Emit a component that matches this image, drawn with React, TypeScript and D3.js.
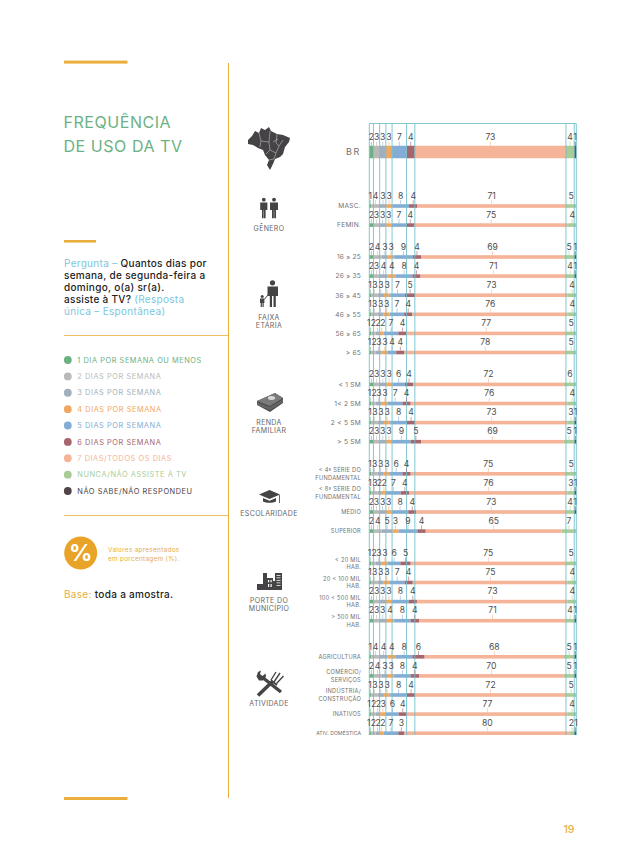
import * as d3 from "d3";

// one row per cut of the sample, in reading order
const rowLabels: string[][] = [
  ["BR"],
  ["MASC."], ["FEMIN."],
  ["16 » 25"], ["26 » 35"], ["36 » 45"], ["46 » 55"], ["56 » 65"], ["> 65"],
  ["< 1 SM"], ["1< 2 SM"], ["2 < 5 SM"], ["> 5 SM"],
  ["< 4ª SÉRIE DO", "FUNDAMENTAL"], ["< 8ª SÉRIE DO", "FUNDAMENTAL"], ["MÉDIO"], ["SUPERIOR"],
  ["< 20 MIL", "HAB."], ["20 < 100 MIL", "HAB."], ["100 < 500 MIL", "HAB."], ["> 500 MIL", "HAB."],
  ["AGRICULTURA"], ["COMÉRCIO/", "SERVIÇOS"], ["INDÚSTRIA/", "CONSTRUÇÃO"], ["INATIVOS"], ["ATIV. DOMÉSTICA"],
];

const dia1 = [2, 1, 2, 2, 2, 1, 1, 1, 1, 2, 1, 1, 2, 1, 1, 2, 2, 1, 1, 2, 2, 1, 2, 1, 1, 1];
const dia2 = [3, 4, 3, 4, 3, 3, 3, 2, 2, 3, 2, 3, 3, 3, 3, 3, 4, 2, 3, 3, 3, 4, 4, 3, 2, 2];
const dia3 = [3, 3, 3, 3, 4, 3, 3, 2, 3, 3, 3, 3, 3, 3, 2, 3, 5, 3, 3, 3, 3, 4, 3, 3, 2, 2];
const dia4 = [3, 3, 3, 3, 4, 3, 3, 2, 3, 3, 3, 3, 3, 3, 2, 3, 3, 3, 3, 3, 4, 4, 3, 3, 3, 2];
const dia5 = [7, 8, 7, 9, 8, 7, 7, 7, 4, 6, 7, 8, 9, 6, 7, 8, 9, 6, 7, 8, 8, 8, 8, 8, 6, 7];
const dia6 = [4, 4, 4, 4, 4, 5, 4, 4, 4, 4, 4, 4, 5, 4, 4, 4, 4, 5, 4, 4, 4, 6, 4, 4, 4, 3];
const dia7 = [73, 71, 75, 69, 71, 73, 76, 77, 78, 72, 76, 73, 69, 75, 76, 73, 65, 75, 75, 73, 71, 68, 70, 72, 77, 80];
const nunca = [4, 5, 4, 5, 4, 4, 4, 5, 5, 6, 4, 3, 5, 5, 3, 4, 7, 5, 4, 4, 4, 5, 5, 5, 4, 2];
const naoSabe = [1, 0, 0, 1, 1, 0, 0, 0, 0, 0, 0, 1, 1, 0, 1, 1, 0, 0, 0, 0, 1, 1, 1, 0, 0, 1];

const seriesKeys = ["dia1", "dia2", "dia3", "dia4", "dia5", "dia6", "dia7", "nunca", "naoSabe"];
const seriesValues = [dia1, dia2, dia3, dia4, dia5, dia6, dia7, nunca, naoSabe];
const legendLabels = [
  "1 DIA POR SEMANA OU MENOS",
  "2 DIAS POR SEMANA",
  "3 DIAS POR SEMANA",
  "4 DIAS POR SEMANA",
  "5 DIAS POR SEMANA",
  "6 DIAS POR SEMANA",
  "7 DIAS/TODOS OS DIAS",
  "NUNCA/NÃO ASSISTE À TV",
  "NÃO SABE/NÃO RESPONDEU",
];
const seriesColors = ["#6cb183", "#b9b9b9", "#9fafbd", "#f0a860", "#83add4", "#a5666e", "#f5b398", "#a9cc97", "#4e4346"];

const groupSizes = [2, 6, 4, 4, 4, 5];
const groupTops = [206, 257, 384.4, 473.8, 563.4, 656.8];
const rowStep = 19.1;
const FONT = "Inter, 'Open Sans', sans-serif";
const ORANGE = "#e9ae3c";
const CYAN = "#74c1cc";
const DARK = "#454345";

const table = rowLabels.map((_, i) => {
  const row: Record<string, number> = {};
  seriesKeys.forEach((k, s) => (row[k] = seriesValues[s][i]));
  return row;
});
const stacked = d3.stack<Record<string, number>>().keys(seriesKeys).offset(d3.stackOffsetExpand)(table);

const x = d3.scaleLinear().domain([0, 1]).range([369.3, 576.3]);

const rowY: number[] = [152];
groupSizes.forEach((n, g) => d3.range(n).forEach((j) => rowY.push(groupTops[g] + j * rowStep)));

const legendY = d3.scalePoint<string>().domain(legendLabels).range([360, 491]);

// narrow segments sit closer than a digit is wide, so nudge neighbours apart
function spreadLabels(centers: number[], gap: number) {
  const xs = centers.slice();
  for (let pass = 0; pass < 30; pass++) {
    for (let i = 1; i < xs.length; i++) {
      const short = gap - (xs[i] - xs[i - 1]);
      if (short > 0) {
        xs[i - 1] -= short / 2;
        xs[i] += short / 2;
      }
    }
  }
  return xs;
}

const rowLabelItems = rowLabels.map((_, r) => {
  const present = seriesKeys.map((_, s) => s).filter((s) => seriesValues[s][r] > 0);
  const centers = present.map((s) => x((stacked[s][r][0] + stacked[s][r][1]) / 2));
  const spread = spreadLabels(centers, 4.7);
  return present.map((s, i) => ({ s, tick: centers[i], text: spread[i], value: seriesValues[s][r] }));
});

function People() {
  const figure = (cx: number, wide: number) => (
    <g key={cx} fill={DARK}>
      <circle cx={cx} cy={199.7} r={1.9} />
      <path d={`M${cx - wide},202.5h${wide * 2}v7.5h-${wide * 0.5}v8.2h-${wide * 0.45}v-8h-${wide * 0.1}v8h-${wide * 0.45}v-8.2h-${wide * 0.5}z`} />
    </g>
  );
  return <g>{figure(263.8, 3.6)}{figure(274, 4)}</g>;
}

function Family() {
  return (
    <g fill={DARK}>
      <circle cx={272.5} cy={282.8} r={2.6} />
      <path d="M267.5,286.5h10.5v9.5h-2.2v11h-2.3v-11h-1.5v11h-2.2v-11h-2.3z" />
      <circle cx={262.2} cy={296.4} r={1.5} />
      <path d="M260,298.6h4.4v4.4h-0.7v4h-1.2v-4h-0.6v4h-1.2v-4h-0.7z" />
      <path d="M264.2,299l3.6,-4.6l0.6,0.5l-3.6,4.7z" />
    </g>
  );
}

function BrazilMap() {
  return (
    <g>
      <path fill={DARK} d="M248,140L252,136L255,131L259,133L261,128L265,130L269,127L271,131L277,134L283,135L290,138L289,142L285,147L283,154L280,157L275,159L273,164L270,170L267,165L269,160L265,155L263,150L258,148L253,145L248,144Z" />
      <path fill="none" stroke="#c9c9c9" strokeWidth={0.55} d="M259,133l2,8l8,1l1,-11M261,141l-1,6M269,142l1,8l6,3l3,-7l4,-6M270,150l-4,4M277,134l-1,9l3,3M276,153l-2,6M273,142l5,-3M269,160l5,-1" />
    </g>
  );
}

function Money() {
  return (
    <g>
      <path fill="#4e4e4e" d="M257,401L275,393L283,398V403L270,412L257,405Z" />
      <path fill="#7b7b7b" d="M257,401L275,393L283,398L270,406Z" />
      <ellipse cx={271.5} cy={398} rx={3.6} ry={1.9} fill="#d8d8d8" />
      <path fill="none" stroke="#929292" strokeWidth={0.45} d="M257,403l13,5l13,-8M257,404.4l13,5l13,-8" />
    </g>
  );
}

function GradCap() {
  return (
    <g fill={DARK}>
      <path d="M259,494.5l10.5,-4.5l10.5,4.5l-10.5,4.5z" />
      <path d="M263,498l6.5,2.8l6.5,-2.8v3.5c-3,1.7,-10,1.7,-13,0z" />
      <path d="M279,495h0.8v8h-0.8z" />
    </g>
  );
}

function City() {
  return (
    <g>
      <path fill={DARK} d="M257,590V584H263V573H267V578H273V581H275V573H282V590Z" />
      <path fill="#fff" d="M268,580h1.2v2.2h-1.2zM270.5,580h1.2v2.2h-1.2zM268,584h1.2v3h-1.2zM270.5,584h1.2v3h-1.2zM276.5,575h4v0.8h-4zM276.5,577.5h4v0.8h-4zM276.5,580h4v0.8h-4zM276.5,582.5h4v0.8h-4zM276.5,585h4v0.8h-4z" />
    </g>
  );
}

function Tools() {
  return (
    <g>
      <path stroke={DARK} strokeWidth={3.4} fill="none" d="M262,677L281,692" />
      <path stroke={DARK} strokeWidth={3.6} fill="none" d="M258,695.5L273,681" />
      <path stroke={DARK} strokeWidth={1.4} fill="none" d="M271,680L276,672M274,682L280,673M276.5,683.5L283.5,676" />
      <path stroke={DARK} strokeWidth={2} fill="none" d="M271,680.5L277,685" />
      <path fill={DARK} d="M258,672l3,-1.5l-1,3.5l2.5,2l3,-2.5l0.5,3l-3,4l-4,0l-2.5,-4z" />
    </g>
  );
}

export default function App() {
  return (
    <svg
      width={638}
      height={862}
      viewBox="0 0 638 862"
      style={{ position: "absolute", left: 0, top: 0, background: "#fff", fontFamily: FONT }}
    >
      {/* page furniture */}
      <rect x={64} y={60.6} width={63.5} height={3} fill={ORANGE} />
      <rect x={64} y={240} width={32} height={2.6} fill={ORANGE} />
      <rect x={64} y={797} width={63.5} height={3} fill={ORANGE} />
      <rect x={228} y={63} width={1} height={735} fill={ORANGE} />
      <rect x={64} y={335} width={164} height={0.8} fill={ORANGE} />
      <rect x={64} y={515} width={164} height={0.8} fill={ORANGE} />

      <text x={63.5} y={127.5} fontSize={16} letterSpacing={0.55} fill="#6cb183">FREQUÊNCIA</text>
      <text x={63.5} y={151.8} fontSize={16} letterSpacing={0.55} fill="#6cb183">DE USO DA TV</text>

      <g fontSize={10} letterSpacing={0.3} fill="#222">
        <text x={64} y={267}><tspan fill="#7cc7dc">Pergunta – </tspan><tspan fontWeight={500}>Quantos dias por</tspan></text>
        <text x={64} y={279.3} fontWeight={500}>semana, de segunda-feira a</text>
        <text x={64} y={291.3} fontWeight={500}>domingo, o(a) sr(a).</text>
        <text x={64} y={303.4}><tspan fontWeight={500}>assiste à TV? </tspan><tspan fill="#7cc7dc">(Resposta</tspan></text>
        <text x={64} y={315.4} fill="#7cc7dc">única – Espontânea)</text>
      </g>

      {/* legend */}
      {legendLabels.map((label, i) => (
        <g key={label}>
          <circle cx={67.8} cy={legendY(label)} r={3.9} fill={seriesColors[i]} />
          <text x={77.3} y={(legendY(label) as number) + 2.7} fontSize={7.4} letterSpacing={0.55} fill={seriesColors[i]}>{label}</text>
        </g>
      ))}

      <circle cx={80.7} cy={553} r={16.5} fill="#e9a427" />
      <text x={80.7} y={561} fontSize={23} fontWeight={700} textAnchor="middle" fill="#fff">%</text>
      <g fontSize={6.4} letterSpacing={0.3} fill={ORANGE}>
        <text x={108} y={552}>Valores apresentados</text>
        <text x={108} y={560.5}>em porcentagem (%).</text>
      </g>
      <text x={64} y={598} fontSize={10} letterSpacing={0.3} fill="#222"><tspan fill={ORANGE}>Base: </tspan><tspan fontWeight={500}>toda a amostra.</tspan></text>

      <text x={569} y={833} fontSize={10.5} fontWeight={500} textAnchor="middle" fill={ORANGE}>19</text>

      {/* group icons and names */}
      <BrazilMap />
      <People />
      <Family />
      <Money />
      <GradCap />
      <City />
      <Tools />
      <g fontSize={7} letterSpacing={0.35} fill="#666" textAnchor="middle">
        <text x={269} y={231.2}>GÊNERO</text>
        <text x={269} y={319.6}>FAIXA</text>
        <text x={269} y={328.2}>ETÁRIA</text>
        <text x={269} y={425}>RENDA</text>
        <text x={269} y={433}>FAMILIAR</text>
        <text x={269} y={516}>ESCOLARIDADE</text>
        <text x={269} y={602.6}>PORTE DO</text>
        <text x={269} y={611.2}>MUNICÍPIO</text>
        <text x={269} y={706.3}>ATIVIDADE</text>
      </g>

      {/* row labels */}
      {rowLabels.map((lines, r) => {
        const size = r === 0 ? 9 : r === 25 ? 5.2 : lines.length > 1 || r > 20 || r === 16 || r === 15 ? 5.7 : 6.6;
        return lines.map((line, l) => (
          <text
            key={line + r}
            x={361}
            y={rowY[r] + (l - (lines.length - 1) / 2) * 7.6 + size * 0.36}
            fontSize={size}
            letterSpacing={r === 0 ? 1.6 : r === 25 ? 0 : 0.25}
            fill="#727272"
            textAnchor="end"
          >
            {line}
          </text>
        ));
      })}

      {/* stacked bars */}
      {stacked.map((layer, s) => (
        <g key={layer.key} fill={seriesColors[s]}>
          {layer.map((d, r) => {
            const h = r === 0 ? 12.5 : 3.6;
            return <rect key={r} x={x(d[0])} y={rowY[r] - h / 2} width={x(d[1]) - x(d[0])} height={h} />;
          })}
        </g>
      ))}

      {/* guide lines follow the national row */}
      <g stroke={CYAN} strokeWidth={0.9} fill="none">
        <line x1={x(0)} x2={x(1)} y1={123.5} y2={123.5} />
        <line x1={x(0)} x2={x(0)} y1={123.5} y2={735} />
        {stacked.map((layer) => (
          <line key={layer.key} x1={x(layer[0][1])} x2={x(layer[0][1])} y1={123.5} y2={735} />
        ))}
      </g>

      {/* value labels with their small ticks */}
      {rowLabelItems.map((items, r) => {
        const top = rowY[r] - (r === 0 ? 6.25 : 1.8);
        return items.map((d) => (
          <g key={`${r}-${d.s}`}>
            <line x1={d.tick} x2={d.tick} y1={top - 4} y2={top} stroke={seriesColors[d.s]} strokeWidth={0.6} />
            <text x={d.text} y={top - 5.5} fontSize={8.6} textAnchor="middle" fill="#4d4d4d">{d.value}</text>
          </g>
        ));
      })}
    </svg>
  );
}
